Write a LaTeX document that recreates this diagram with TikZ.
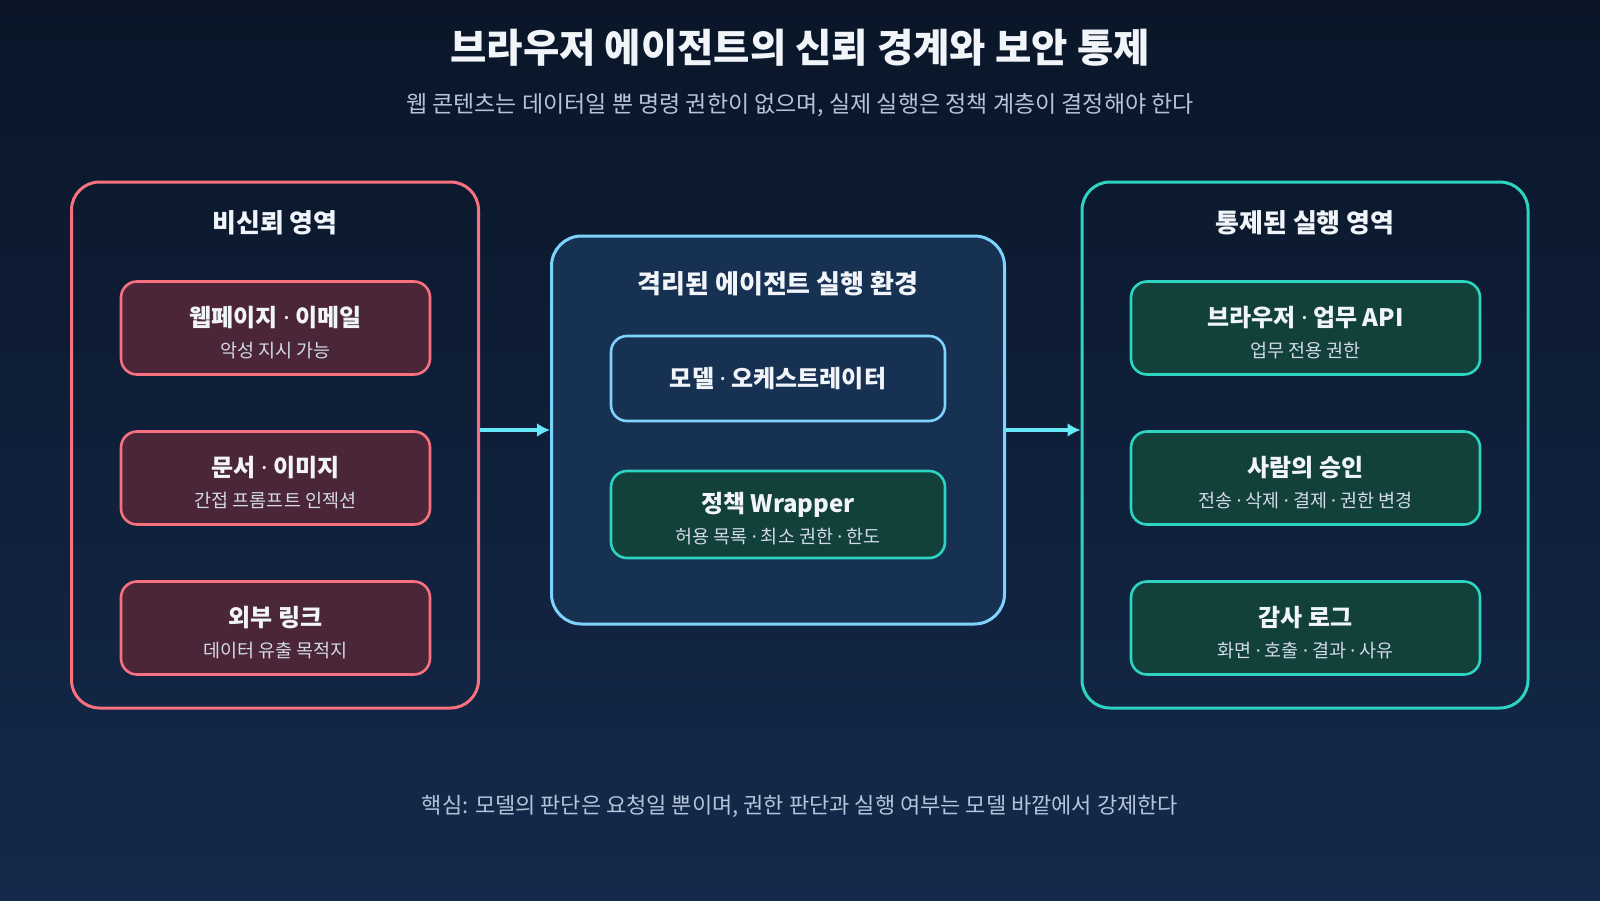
\documentclass[tikz,border=0pt]{standalone}
\usepackage{fontspec}
\setmainfont{Noto Sans CJK KR}
\newfontfamily\dotfont{Noto Sans}
\usepackage{tikz}
\usetikzlibrary{arrows.meta,positioning,calc}

\definecolor{bgtop}{HTML}{0A1628}
\definecolor{bgbot}{HTML}{14294B}
\definecolor{rosered}{HTML}{F7717F}
\definecolor{rosefill}{HTML}{4B2638}
\definecolor{skyline}{HTML}{7DD3FC}
\definecolor{skyfill}{HTML}{173152}
\definecolor{tealline}{HTML}{2DD4BF}
\definecolor{tealfill}{HTML}{12403B}
\definecolor{flowcyan}{HTML}{67E8F9}
\definecolor{headtext}{HTML}{F1F5F9}
\definecolor{subtext}{HTML}{B4C4DA}
\definecolor{smalltext}{HTML}{D2DAE5}

\newcommand{\mdot}{{\dotfont ·}}
\newcommand{\boxtitle}[1]{{\fontsize{24}{31}\bfseries #1}}
\newcommand{\boxsub}[1]{{\fontsize{18.5}{31}\selectfont\color{smalltext} #1}}
\newcommand{\boxtwo}[2]{\rule{0pt}{29pt}\boxtitle{#1}\\\boxsub{#2}}

\begin{document}
\begin{tikzpicture}[
x=1pt, y=-1pt,
zone/.style = {line width=3pt, rounded corners=28pt, inner sep=0pt},
card/.style = {line width=2.6pt, rounded corners=16pt, inner sep=0pt, align=center,
  text=headtext, font=\fontsize{18.5}{31}\selectfont},
srccard/.style = {card, draw=rosered, fill=rosefill, minimum width=309pt, minimum height=93pt},
envcard/.style = {card, draw=skyline, fill=skyfill, minimum width=334pt, minimum height=85pt},
wrapcard/.style = {card, draw=tealline, fill=tealfill, minimum width=334pt, minimum height=87pt},
execcard/.style = {card, draw=tealline, fill=tealfill, minimum width=349pt, minimum height=93pt},
zonehead/.style = {text=headtext, font=\fontsize{26}{30}\bfseries},
flow/.style = {draw=flowcyan, line width=4pt, -{Latex[length=13pt,width=14pt]}}
]

% background
\shade[top color=bgtop, bottom color=bgbot] (0,0) rectangle (1600,900);
\useasboundingbox (0,0) rectangle (1600,900);

% titles
\node[text=headtext, font=\fontsize{39.5}{44}\bfseries] (title) at (800,48) {브라우저 에이전트의 신뢰 경계와 보안 통제};
\node[text=subtext, font=\fontsize{23}{27}\selectfont] (subtitle) at (800,105) {웹 콘텐츠는 데이터일 뿐 명령 권한이 없으며, 실제 실행은 정책 계층이 결정해야 한다};

% zones
\node[zone, draw=rosered, minimum width=407pt, minimum height=526pt] (untrusted) at (275,445) {};
\node[zone, draw=skyline, fill=skyfill, rounded corners=30pt, minimum width=453pt, minimum height=388pt] (sandbox) at (778,430) {};
\node[zone, draw=tealline, minimum width=446pt, minimum height=526pt] (controlled) at (1305,445) {};

\node[zonehead] (untrustedhead) at (275,223) {비신뢰 영역};
\node[zonehead] (sandboxhead) at (778,284) {격리된 에이전트 실행 환경};
\node[zonehead] (controlledhead) at (1305,223) {통제된 실행 영역};

% untrusted inputs
\node[srccard] (webpage) at (275.5,328) {\boxtwo{웹페이지 \mdot{} 이메일}{악성 지시 가능}};
\node[srccard, below=54.4pt of webpage] (document) {\boxtwo{문서 \mdot{} 이미지}{간접 프롬프트 인젝션}};
\node[srccard, below=54.4pt of document] (extlink) {\boxtwo{외부 링크}{데이터 유출 목적지}};

% sandbox
\node[envcard] (model) at (778,378.5) {\boxtitle{모델 \mdot{} 오케스트레이터}};
\node[wrapcard, below=47.4pt of model] (wrapper) {\boxtwo{정책 Wrapper}{허용 목록 \mdot{} 최소 권한 \mdot{} 한도}};

% controlled execution
\node[execcard] (bizapi) at (1305.5,328) {\boxtwo{브라우저 \mdot{} 업무 API}{업무 전용 권한}};
\node[execcard, below=54.4pt of bizapi] (approval) {\boxtwo{사람의 승인}{전송 \mdot{} 삭제 \mdot{} 결제 \mdot{} 권한 변경}};
\node[execcard, below=54.4pt of approval] (auditlog) {\boxtwo{감사 로그}{화면 \mdot{} 호출 \mdot{} 결과 \mdot{} 사유}};

% arrows
\draw[flow] (untrusted.east |- sandbox.west) -- (sandbox.west);
\draw[flow] (sandbox.east) -- (controlled.west |- sandbox.east);

% footer
\node[text=subtext, font=\fontsize{22}{26}\selectfont] (footer) at (800,806) {핵심: 모델의 판단은 요청일 뿐이며, 권한 판단과 실행 여부는 모델 바깥에서 강제한다};

\end{tikzpicture}
\end{document}
